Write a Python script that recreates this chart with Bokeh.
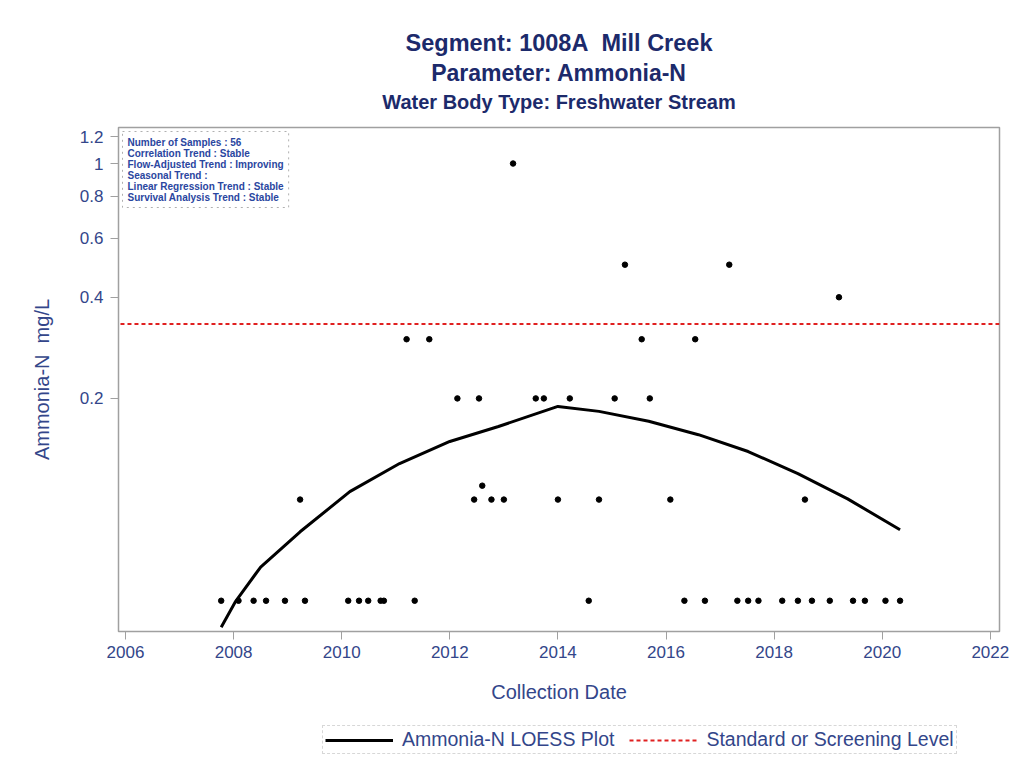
from bokeh.plotting import figure
from bokeh.layouts import column
from bokeh.models import (FixedTicker, Label, Legend, LegendItem,
                          Range1d, ColumnDataSource)
from bokeh.embed import file_html
from bokeh.resources import INLINE

# ---------------- data ----------------
sample_dates = [2007.77, 2008.09, 2008.37, 2008.60, 2008.95, 2009.23, 2009.32,
                2010.12, 2010.32, 2010.49, 2010.72, 2010.78, 2011.20, 2011.35,
                2011.62, 2012.14, 2012.45, 2012.54, 2012.60, 2012.77, 2013.00,
                2013.17, 2013.59, 2013.74, 2014.00, 2014.22, 2014.57, 2014.76,
                2015.05, 2015.24, 2015.55, 2015.70, 2016.08, 2016.34, 2016.54,
                2016.72, 2017.17, 2017.32, 2017.52, 2017.71, 2018.15, 2018.44,
                2018.57, 2018.70, 2019.03, 2019.20, 2019.46, 2019.68, 2020.06,
                2020.33]
sample_values = [0.05, 0.05, 0.05, 0.05, 0.05, 0.10, 0.05,
                 0.05, 0.05, 0.05, 0.05, 0.05, 0.30, 0.05,
                 0.30, 0.20, 0.10, 0.20, 0.11, 0.10, 0.10,
                 1.00, 0.20, 0.20, 0.10, 0.20, 0.05, 0.10,
                 0.20, 0.50, 0.30, 0.20, 0.10, 0.05, 0.30,
                 0.05, 0.50, 0.05, 0.05, 0.05, 0.05, 0.05,
                 0.10, 0.05, 0.05, 0.40, 0.05, 0.05, 0.05,
                 0.05]

loess_dates = [2007.77, 2008.03, 2008.50, 2009.23, 2010.15, 2011.07, 2012.00,
               2012.90, 2014.00, 2014.76, 2015.68, 2016.60, 2017.52, 2018.44,
               2019.36, 2020.33]
loess_values = [0.0417, 0.0496, 0.063, 0.0802, 0.1056, 0.128, 0.1489,
                0.165, 0.1893, 0.183, 0.171, 0.156, 0.139, 0.1194,
                0.1005, 0.0813]

screening_level = 0.333

x_ticks = [2006, 2008, 2010, 2012, 2014, 2016, 2018, 2020, 2022]
y_ticks = [0.2, 0.4, 0.6, 0.8, 1, 1.2]
y_tick_labels = ["0.2", "0.4", "0.6", "0.8", "1", "1.2"]

title_lines = ["Segment: 1008A\u00a0 Mill Creek", "Parameter: Ammonia-N",
               "Water Body Type: Freshwater Stream"]
y_label = "Ammonia-N\u00a0 mg/L"
x_label = "Collection Date"
legend_labels = ["Ammonia-N LOESS Plot", "Standard or Screening Level"]
info_lines = ["Number of Samples : 56", "Correlation Trend : Stable",
              "Flow-Adjusted Trend : Improving", "Seasonal Trend :",
              "Linear Regression Trend : Stable", "Survival Analysis Trend : Stable"]

# ---------------- styles ----------------
FONT = "Liberation Sans"
NAVY = "#1c2a6b"
LBL = "#33468a"
GRAY = "#a0a0a0"
RED = "#e02020"
W = 1018

xr = Range1d(2005.87, 2022.17)

# ---------- title strip ----------
tt = figure(width=W, height=120, output_backend="svg", toolbar_location=None,
            x_range=xr, y_range=Range1d(0, 120),
            min_border_left=118, min_border_right=19, min_border_top=0,
            min_border_bottom=0)
tt.axis.visible = False
tt.grid.visible = False
tt.outline_line_color = None
for txt, size, ypos in [(title_lines[0], "23.5px", 78), (title_lines[1], "23px", 48),
                        (title_lines[2], "20px", 19)]:
    tt.add_layout(Label(x=(xr.start + xr.end) / 2, y=ypos, y_units="screen",
                        text=txt, text_font=FONT, text_font_size=size,
                        text_font_style="bold", text_color=NAVY,
                        text_align="center", text_baseline="middle"))

# ---------- main chart ----------
p = figure(width=W, height=586, output_backend="svg", toolbar_location=None,
           y_axis_type="log",
           x_range=xr, y_range=Range1d(0.0405, 1.28),
           min_border_left=118, min_border_right=19, min_border_top=7,
           min_border_bottom=75)

p.xgrid.visible = False
p.ygrid.visible = False
p.outline_line_color = GRAY
p.outline_line_width = 1.5

for ax in (p.xaxis[0], p.yaxis[0]):
    ax.axis_line_color = GRAY
    ax.major_tick_line_color = GRAY
    ax.major_tick_out = 8
    ax.major_tick_in = 0
    ax.minor_tick_line_color = None
    ax.major_label_text_font = FONT
    ax.major_label_text_font_size = "17px"
    ax.major_label_text_color = LBL
    ax.axis_label_text_font = FONT
    ax.axis_label_text_font_size = "20px"
    ax.axis_label_text_font_style = "normal"
    ax.axis_label_text_color = LBL

p.xaxis.ticker = FixedTicker(ticks=x_ticks)
p.xaxis.axis_label = x_label
p.xaxis.major_label_standoff = 6
p.xaxis.axis_label_standoff = 20

p.yaxis.ticker = FixedTicker(ticks=y_ticks, minor_ticks=[])
p.yaxis.major_label_overrides = {t: l for t, l in zip(y_ticks, y_tick_labels)}
p.yaxis.axis_label = y_label
p.yaxis.major_label_standoff = 7
p.yaxis.axis_label_standoff = 24

src = ColumnDataSource(dict(x=sample_dates, y=sample_values))
p.scatter("x", "y", source=src, size=5.5, color="black")

p.line(loess_dates, loess_values, line_color="black", line_width=3)

p.line([x_ticks[0] - 1, x_ticks[-1] + 1], [screening_level, screening_level],
       line_color=RED, line_width=2, line_dash="4 3")

info = Label(x=4, y=500, x_units="screen", y_units="screen",
             text="\n".join(info_lines), text_font=FONT, text_font_size="10px",
             text_font_style="bold", text_color="#2a46a0", anchor="top_left",
             border_line_color="#b0b0b0", border_line_dash="dotted",
             background_fill_color="white", padding=5, text_line_height=1.0)
p.add_layout(info)

# ---------- legend strip ----------
lg = figure(width=W, height=54, output_backend="svg", toolbar_location=None,
            x_range=Range1d(0, 1), y_range=Range1d(0, 1),
            min_border_left=118, min_border_right=19, min_border_top=0,
            min_border_bottom=0)
lg.axis.visible = False
lg.grid.visible = False
lg.outline_line_color = None
r1 = lg.line([-5, -4], [-5, -5], line_color="black", line_width=3)
r2 = lg.line([-5, -4], [-5, -5], line_color=RED, line_width=2, line_dash="4 3")
legend = Legend(items=[LegendItem(label=legend_labels[0], renderers=[r1]),
                       LegendItem(label=legend_labels[1], renderers=[r2])],
                orientation="horizontal", location=(204, 6),
                label_text_font=FONT, label_text_font_size="19.5px",
                label_text_color=LBL, glyph_width=68, glyph_height=14,
                label_height=18,
                border_line_color="#b0b0b0", border_line_dash="dotted",
                spacing=15, padding=2, margin=0, label_standoff=9)
lg.add_layout(legend)

layout = column(tt, p, lg, spacing=0)
open("out.html", "w").write(file_html(layout, INLINE))
